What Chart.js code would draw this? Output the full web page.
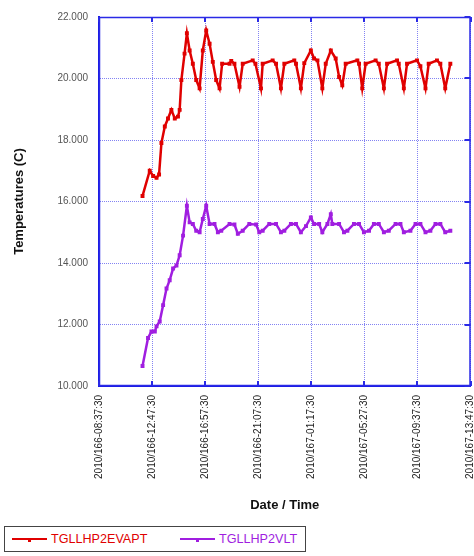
<!DOCTYPE html>
<html>
<head>
<meta charset="utf-8">
<title>TGLLHP2 temperatures</title>
<script src="https://cdn.jsdelivr.net/npm/chart.js"></script>
<style>
    body { margin: 0; background: #fff; font-family: "Liberation Sans", Arial, sans-serif; }
    .wrap { position: relative; width: 474px; height: 556px; }
    .plot { position: absolute; left: 0; top: 0; width: 474px; height: 520px; }
    .legend {
        position: absolute; left: 4px; top: 526px; width: 300px; height: 24px;
        border: 1px solid #444; font-size: 12.6px;
    }
    .legend .item { position: absolute; top: 5px; height: 14px; line-height: 14px; }
    .legend .swatch { position: absolute; top: 6px; height: 2px; width: 35px; }
    .legend .swatch::after {
        content: ""; position: absolute; left: 16px; top: 0; width: 3px; height: 4px; background: inherit;
    }
    .legend .txt { position: absolute; top: 0; white-space: nowrap; }
</style>
</head>
<body>
<div class="wrap">
    <div class="plot"><canvas id="chart"></canvas></div>
    <div class="legend" id="legend"></div>
</div>
<script>
// minutes since 2010/166-08:37:30
const xTickLabels = ['2010/166-08:37:30', '2010/166-12:47:30', '2010/166-16:57:30', '2010/166-21:07:30',
                     '2010/167-01:17:30', '2010/167-05:27:30', '2010/167-09:37:30', '2010/167-13:47:30'];
const yTicks = [10, 12, 14, 16, 18, 20, 22];

const evapT = [205, 239, 255, 271, 283, 294, 310, 325, 341, 357, 372, 380, 388, 403, 414, 427, 442, 458, 474, 489,
               505, 521, 536, 552, 568, 580, 615, 623, 638, 662, 677, 724, 737, 763, 771, 818, 834, 857, 873, 920,
               928, 951, 967, 998, 1013, 1029, 1052, 1068, 1092, 1115, 1131, 1146, 1162, 1217, 1225, 1240, 1256,
               1303, 1318, 1342, 1357, 1404, 1412, 1436, 1451, 1498, 1514, 1538, 1553, 1592, 1608, 1631, 1655];
const evapV = [16.18, 17.0, 16.83, 16.77, 16.88, 17.9, 18.44, 18.7, 18.98, 18.7, 18.76, 18.98, 19.95, 20.81, 21.47,
               20.91, 20.48, 19.95, 19.68, 20.91, 21.56, 21.13, 20.54, 19.95, 19.68, 20.48, 20.48, 20.57, 20.48,
               19.73, 20.48, 20.59, 20.48, 19.68, 20.48, 20.59, 20.48, 19.68, 20.48, 20.59, 20.48, 19.68, 20.5,
               20.91, 20.65, 20.59, 19.68, 20.48, 20.91, 20.65, 20.05, 19.78, 20.48, 20.59, 20.48, 19.68, 20.48,
               20.59, 20.48, 19.68, 20.48, 20.59, 20.48, 19.68, 20.48, 20.59, 20.4, 19.68, 20.48, 20.59, 20.48,
               19.68, 20.48];

const vltT = [205, 231, 247, 263, 271, 286, 302, 318, 333, 349, 365, 380, 396, 414, 427, 442, 458, 474, 489, 505,
              521, 544, 560, 576, 615, 638, 654, 677, 708, 740, 755, 771, 802, 834, 857, 873, 904, 928, 951, 975,
              998, 1013, 1037, 1052, 1076, 1092, 1099, 1131, 1154, 1170, 1201, 1225, 1248, 1272, 1295, 1318, 1342,
              1365, 1397, 1420, 1436, 1467, 1491, 1514, 1538, 1561, 1585, 1608, 1631, 1655];
const vltV = [10.65, 11.56, 11.77, 11.77, 11.94, 12.1, 12.63, 13.17, 13.44, 13.82, 13.92, 14.25, 14.89, 15.86, 15.32,
              15.27, 15.05, 15.0, 15.43, 15.86, 15.27, 15.27, 15.0, 15.05, 15.27, 15.25, 14.95, 15.05, 15.27, 15.25,
              15.0, 15.05, 15.27, 15.27, 15.0, 15.05, 15.27, 15.27, 15.0, 15.2, 15.48, 15.27, 15.27, 15.0, 15.27,
              15.59, 15.27, 15.27, 15.0, 15.05, 15.27, 15.27, 15.0, 15.05, 15.27, 15.27, 15.0, 15.05, 15.27, 15.27,
              15.0, 15.05, 15.27, 15.27, 15.0, 15.05, 15.27, 15.27, 15.0, 15.05];

const seriesNames = ['TGLLHP2EVAPT', 'TGLLHP2VLT'];
const seriesColors = ['#e00000', '#a01ee0'];

const FONT = '"Liberation Sans", Arial, sans-serif';
const STEP = 250;

function toPoints(ts, vs) {
    return ts.map((t, i) => ({ x: t, y: vs[i] }));
}

// blue frame round the plot plus small inward tick marks
const frame = {
    id: 'frame',
    afterDraw(chart) {
        const { ctx, chartArea: a, scales } = chart;
        ctx.save();
        ctx.strokeStyle = '#2a2ae6';
        ctx.lineWidth = 1.5;
        ctx.strokeRect(a.left + 0.5, a.top + 0.5, a.right - a.left - 1, a.bottom - a.top - 1);
        ctx.lineWidth = 2;
        scales.y.ticks.forEach(t => {
            const y = Math.round(scales.y.getPixelForValue(t.value));
            ctx.beginPath();
            ctx.moveTo(a.right - 6, y); ctx.lineTo(a.right, y);
            ctx.stroke();
        });
        scales.x.ticks.forEach(t => {
            const x = Math.round(scales.x.getPixelForValue(t.value));
            ctx.beginPath();
            ctx.moveTo(x, a.bottom - 5); ctx.lineTo(x, a.bottom);
            ctx.moveTo(x, a.top); ctx.lineTo(x, a.top + 5);
            ctx.stroke();
        });
        ctx.restore();
    }
};

const ctx = document.getElementById('chart').getContext('2d');
new Chart(ctx, {
    type: 'line',
    data: {
        datasets: [
            {
                label: seriesNames[0],
                data: toPoints(evapT, evapV),
                borderColor: seriesColors[0],
                backgroundColor: seriesColors[0],
                borderWidth: 2.5,
                pointStyle: 'rect',
                pointRadius: 1,
                pointHoverRadius: 1,
                tension: 0
            },
            {
                label: seriesNames[1],
                data: toPoints(vltT, vltV),
                borderColor: seriesColors[1],
                backgroundColor: seriesColors[1],
                borderWidth: 2.5,
                pointStyle: 'rect',
                pointRadius: 1,
                pointHoverRadius: 1,
                tension: 0
            }
        ]
    },
    options: {
        responsive: true,
        maintainAspectRatio: false,
        animation: false,
        layout: { padding: { left: 0, top: 13, right: 2, bottom: 0 } },
        plugins: {
            legend: { display: false },
            tooltip: { enabled: false }
        },
        scales: {
            x: {
                type: 'linear',
                min: 0,
                max: STEP * (xTickLabels.length - 1),
                afterBuildTicks(scale) {
                    scale.ticks = xTickLabels.map((_, i) => ({ value: i * STEP }));
                },
                afterFit(scale) {
                    scale.height = 134;
                    scale.paddingLeft = 0;
                    scale.paddingRight = 0;
                },
                ticks: {
                    autoSkip: false,
                    maxRotation: 90,
                    minRotation: 90,
                    padding: 9,
                    color: '#222',
                    font: { family: FONT, size: 10 },
                    callback: v => xTickLabels[Math.round(v / STEP)]
                },
                grid: {
                    color: 'rgba(100, 100, 240, 0.8)',
                    lineWidth: 1,
                    drawTicks: false
                },
                border: { color: '#1a1ae6', width: 2, dash: [1, 1] },
                title: {
                    display: true,
                    text: 'Date / Time',
                    color: '#111',
                    font: { family: FONT, size: 13, weight: 'bold' },
                    padding: { top: 0, bottom: 7 }
                }
            },
            y: {
                min: 10,
                max: 22,
                afterBuildTicks(scale) {
                    scale.ticks = yTicks.map(v => ({ value: v }));
                },
                afterFit(scale) {
                    scale.width = 99;
                },
                ticks: {
                    padding: 11,
                    color: '#555',
                    font: { family: FONT, size: 10 },
                    callback: v => v.toFixed(3)
                },
                grid: {
                    color: 'rgba(100, 100, 240, 0.8)',
                    lineWidth: 1,
                    drawTicks: false
                },
                border: { color: '#1a1ae6', width: 2, dash: [1, 1] },
                title: {
                    display: true,
                    text: 'Temperatures (C)',
                    color: '#111',
                    font: { family: FONT, size: 13, weight: 'bold' },
                    padding: { top: 12, bottom: 0 }
                }
            }
        }
    },
    plugins: [frame]
});

// legend below the chart
const legend = document.getElementById('legend');
const swatchLeft = [7, 175];
seriesNames.forEach((name, i) => {
    const item = document.createElement('div');
    item.className = 'item';
    item.style.left = swatchLeft[i] + 'px';
    item.innerHTML = '<span class="swatch" style="background:' + seriesColors[i] + '"></span>' +
                     '<span class="txt" style="left:39px;color:' + seriesColors[i] + '">' + name + '</span>';
    legend.appendChild(item);
});
</script>
</body>
</html>
